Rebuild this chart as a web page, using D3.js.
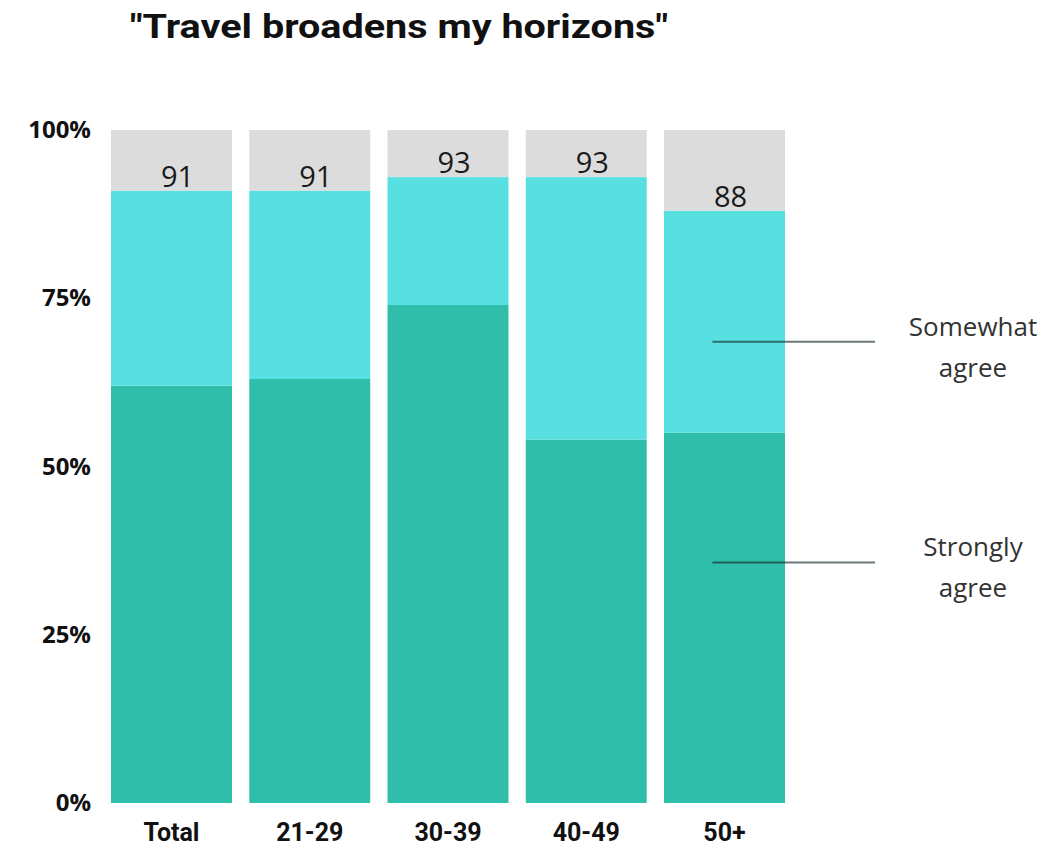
<!DOCTYPE html>
<html>
<head>
<meta charset="utf-8">
<script src="https://cdn.jsdelivr.net/npm/d3@7/dist/d3.min.js"></script>
<style>
  html, body { margin: 0; padding: 0; background: #ffffff; }
  svg { display: block; }
</style>
</head>
<body>
<svg id="chart" width="1049" height="849"></svg>
<script>
// Survey responses by age group (% of respondents)
const categories = ["Total", "21-29", "30-39", "40-49", "50+"];
const stronglyAgree = [62, 63, 74, 54, 55];
const somewhatAgree = [29, 28, 19, 39, 33];
const yTicks = [0, 25, 50, 75, 100];
const seriesNames = ["Strongly agree", "Somewhat agree"];

const colors = {
  strongly: "#2fbea9",
  somewhat: "#58e0e1",
  rest: "#dcdcdc"
};

const svg = d3.select("#chart");
const plot = { left: 111, right: 785, top: 130, bottom: 803 };

const rows = categories.map((c, i) => ({
  category: c,
  strongly: stronglyAgree[i],
  somewhat: somewhatAgree[i],
  total: stronglyAgree[i] + somewhatAgree[i]
}));

const x = d3.scaleBand()
  .domain(categories)
  .range([plot.left, plot.right])
  .paddingInner(0.125)
  .paddingOuter(0);

const y = d3.scaleLinear()
  .domain([0, 100])
  .range([plot.bottom, plot.top]);

// Title
svg.append("text")
  .attr("x", 130)
  .attr("y", 38)
  .attr("font-family", "Roboto, 'Liberation Sans', sans-serif")
  .attr("font-weight", 700)
  .attr("font-size", 34)
  .attr("fill", "#111")
  .attr("textLength", 538)
  .attr("lengthAdjust", "spacingAndGlyphs")
  .text("\"Travel broadens my horizons\"");

// Stacked bars
const stack = d3.stack().keys(["strongly", "somewhat", "rest"])
  .value((d, key) => key === "rest" ? 100 - d.total : d[key]);
const layers = stack(rows);

svg.append("g")
  .selectAll("g")
  .data(layers)
  .join("g")
  .attr("fill", d => colors[d.key])
  .selectAll("rect")
  .data(d => d)
  .join("rect")
  .attr("x", d => x(d.data.category))
  .attr("width", x.bandwidth())
  .attr("y", d => y(d[1]))
  .attr("height", d => y(d[0]) - y(d[1]));

// Total agree labels
svg.append("g")
  .selectAll("text")
  .data(rows)
  .join("text")
  .attr("x", d => x(d.category) + x.bandwidth() / 2 + 6)
  .attr("y", d => y(d.total) - 4)
  .attr("text-anchor", "middle")
  .attr("font-family", "'Open Sans', 'Liberation Sans', sans-serif")
  .attr("font-size", 29)
  .attr("fill", "#1a1a1a")
  .text(d => d.total);

// Y axis
const yAxis = d3.axisLeft(y)
  .tickValues(yTicks)
  .tickFormat(d => d + "%")
  .tickSize(0)
  .tickPadding(0);

const yg = svg.append("g")
  .attr("transform", `translate(91,0)`)
  .call(yAxis);
yg.select(".domain").remove();
yg.selectAll("text")
  .attr("font-family", "'Open Sans', 'Liberation Sans', sans-serif")
  .attr("font-weight", 700)
  .attr("font-size", 24)
  .attr("fill", "#111");

// X axis
const xAxis = d3.axisBottom(x).tickSize(0).tickPadding(0);
const xg = svg.append("g")
  .attr("transform", `translate(0,${plot.bottom})`)
  .call(xAxis);
xg.select(".domain").remove();
xg.selectAll("text")
  .attr("dy", null)
  .attr("y", 38)
  .attr("font-family", "Roboto, 'Liberation Sans', sans-serif")
  .attr("font-weight", 700)
  .attr("font-size", 25)
  .attr("fill", "#111");

// Direct series labels on the last bar
const last = rows[rows.length - 1];
const lineX0 = x(last.category) + x.bandwidth() * 0.4;
const lineX1 = 875;
const textX = 973;
const annotations = [
  { name: seriesNames[1], at: last.strongly + last.somewhat * 0.41 },
  { name: seriesNames[0], at: last.strongly * 0.65 }
];

const ann = svg.append("g")
  .selectAll("g")
  .data(annotations)
  .join("g");

ann.append("line")
  .attr("x1", lineX0)
  .attr("x2", lineX1)
  .attr("y1", d => y(d.at))
  .attr("y2", d => y(d.at))
  .attr("stroke", "rgba(20,40,40,0.62)")
  .attr("stroke-width", 2);

ann.each(function(d) {
  const words = d.name.split(" ");
  const t = d3.select(this).append("text")
    .attr("text-anchor", "middle")
    .attr("font-family", "'Open Sans', 'Liberation Sans', sans-serif")
    .attr("font-size", 26)
    .attr("fill", "#333");
  words.forEach((w, i) => {
    t.append("tspan")
      .attr("x", textX)
      .attr("y", y(d.at) - 6 + i * 41)
      .text(w);
  });
});
</script>
</body>
</html>
